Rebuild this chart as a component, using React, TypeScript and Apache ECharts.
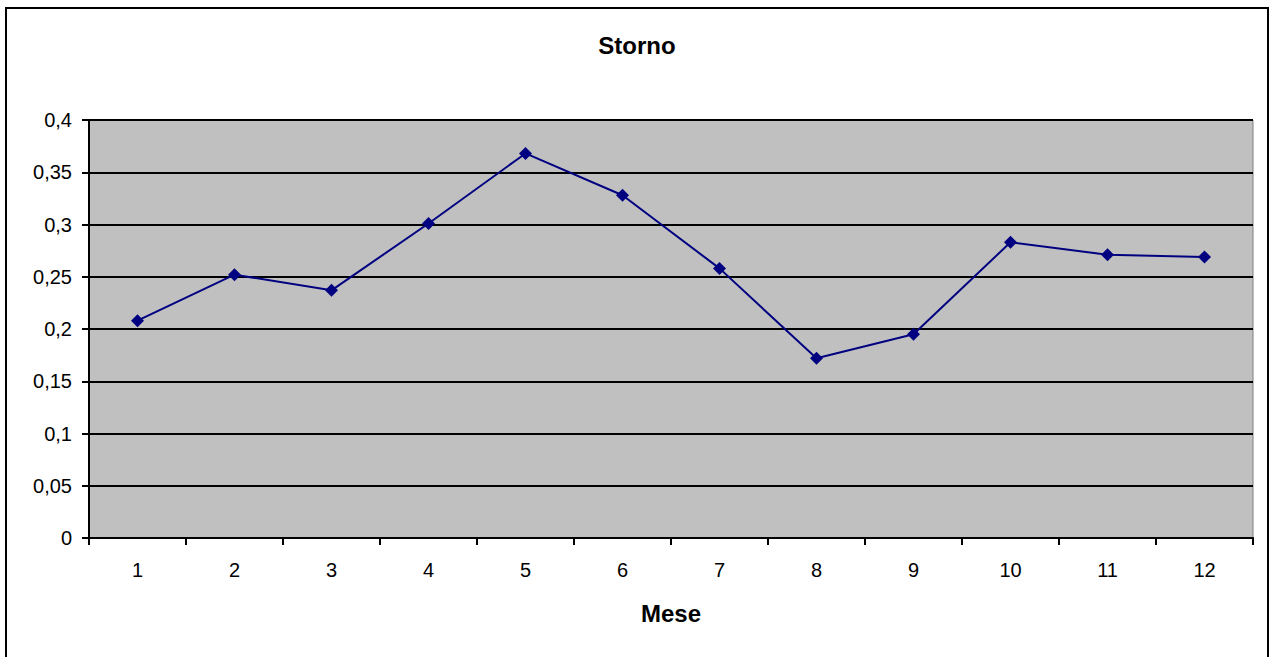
import React, { useEffect, useRef } from "react";
import * as echarts from "echarts";

const months: string[] = ["1", "2", "3", "4", "5", "6", "7", "8", "9", "10", "11", "12"];
const storno: number[] = [0.208, 0.252, 0.237, 0.301, 0.368, 0.328, 0.258, 0.172, 0.195, 0.283, 0.271, 0.269];
const titleText = "Storno";
const xAxisTitle = "Mese";

export default function App() {
  const ref = useRef<HTMLDivElement>(null);
  useEffect(() => {
    if (!ref.current) return;
    const chart = echarts.init(ref.current, null, { renderer: "svg" });
    const font = "Arial, 'Liberation Sans', sans-serif";
    chart.setOption({
      animation: false,
      backgroundColor: "#ffffff",
      grid: {
        left: 89,
        right: 18,
        top: 120,
        bottom: 119,
        show: true,
        backgroundColor: "#c0c0c0",
        borderColor: "#808080",
        borderWidth: 1,
      },
      graphic: [
        {
          type: "rect",
          shape: { x: 6, y: 8, width: 1262, height: 660 },
          style: { fill: "none", stroke: "#000", lineWidth: 2 },
          silent: true,
        },
        {
          type: "text",
          x: 637,
          y: 45,
          style: {
            text: titleText,
            font: `bold 24px ${font}`,
            fill: "#000",
            align: "center",
            verticalAlign: "middle",
          },
        },
        {
          type: "text",
          x: 671,
          y: 613,
          style: {
            text: xAxisTitle,
            font: `bold 24px ${font}`,
            fill: "#000",
            align: "center",
            verticalAlign: "middle",
          },
        },
      ],
      xAxis: {
        type: "category",
        data: months,
        boundaryGap: true,
        axisLine: { show: true, lineStyle: { color: "#000", width: 2 } },
        axisTick: { show: true, alignWithLabel: false, length: 7, lineStyle: { color: "#000", width: 2 } },
        axisLabel: { color: "#000", fontSize: 20, fontFamily: font, margin: 22 },
        splitLine: { show: false },
      },
      yAxis: {
        type: "value",
        min: 0,
        max: 0.4,
        interval: 0.05,
        axisLine: { show: true, lineStyle: { color: "#000", width: 2 } },
        axisTick: { show: true, length: 7, lineStyle: { color: "#000", width: 2 } },
        axisLabel: {
          color: "#000",
          fontSize: 20,
          fontFamily: font,
          margin: 17,
          formatter: (v: number) => String(+v.toFixed(2)).replace(".", ","),
        },
        splitLine: { show: true, lineStyle: { color: "#000", width: 2 } },
      },
      series: [
        {
          type: "line",
          data: storno,
          symbol: "diamond",
          symbolSize: 13,
          lineStyle: { color: "#000080", width: 2 },
          itemStyle: { color: "#000080" },
        },
      ],
    });
    return () => chart.dispose();
  }, []);
  return <div ref={ref} style={{ position: "fixed", left: 0, top: 0, width: 1271, height: 657 }} />;
}
